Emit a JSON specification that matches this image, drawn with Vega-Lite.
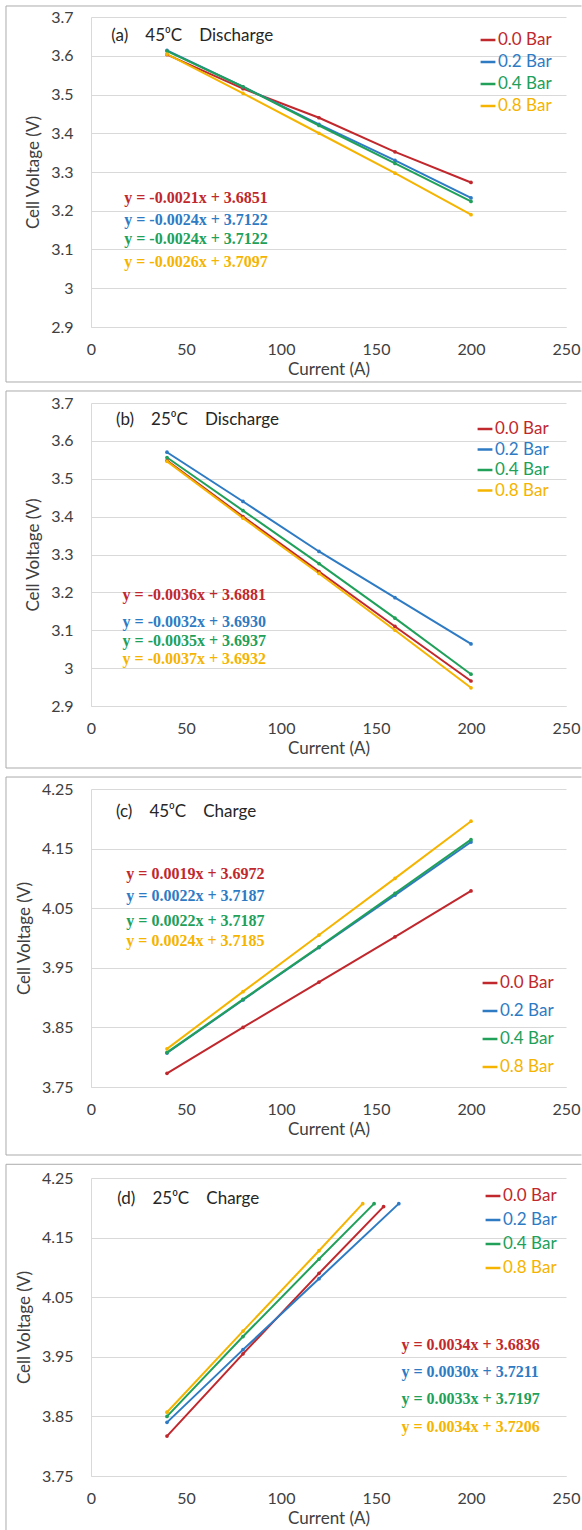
{
  "$schema": "https://vega.github.io/schema/vega-lite/v6.json",
  "background": "white",
  "padding": {"left": 5, "top": 5, "right": 0, "bottom": 0},
  "spacing": 7,
  "resolve": {"legend": {"color": "independent"}},
  "config": {
    "view": {"stroke": null},
    "font": "Lato",
    "axis": {"gridColor": "#D9D9D9", "domainColor": "#D9D9D9", "ticks": false, "labelFont": "Lato", "labelFontSize": 16, "labelColor": "#404040", "titleFont": "Lato", "titleFontSize": 17, "titleFontWeight": "normal", "titleColor": "#404040", "labelFlush": false, "labelOverlap": false},
    "legend": {"title": null, "symbolType": "stroke", "symbolSize": 220, "symbolStrokeWidth": 2.5, "labelFontSize": 17, "labelFont": "Lato", "labelOffset": 1, "padding": 0}
  },
  "datasets": {
    "cells": [
      {"panel": "a", "pressure": "0.0 Bar", "current": 40, "voltage": 3.603},
      {"panel": "a", "pressure": "0.0 Bar", "current": 80, "voltage": 3.515},
      {"panel": "a", "pressure": "0.0 Bar", "current": 120, "voltage": 3.440},
      {"panel": "a", "pressure": "0.0 Bar", "current": 160, "voltage": 3.352},
      {"panel": "a", "pressure": "0.0 Bar", "current": 200, "voltage": 3.273},
      {"panel": "a", "pressure": "0.2 Bar", "current": 40, "voltage": 3.614},
      {"panel": "a", "pressure": "0.2 Bar", "current": 80, "voltage": 3.520},
      {"panel": "a", "pressure": "0.2 Bar", "current": 120, "voltage": 3.423},
      {"panel": "a", "pressure": "0.2 Bar", "current": 160, "voltage": 3.330},
      {"panel": "a", "pressure": "0.2 Bar", "current": 200, "voltage": 3.233},
      {"panel": "a", "pressure": "0.4 Bar", "current": 40, "voltage": 3.612},
      {"panel": "a", "pressure": "0.4 Bar", "current": 80, "voltage": 3.520},
      {"panel": "a", "pressure": "0.4 Bar", "current": 120, "voltage": 3.420},
      {"panel": "a", "pressure": "0.4 Bar", "current": 160, "voltage": 3.322},
      {"panel": "a", "pressure": "0.4 Bar", "current": 200, "voltage": 3.224},
      {"panel": "a", "pressure": "0.8 Bar", "current": 40, "voltage": 3.604},
      {"panel": "a", "pressure": "0.8 Bar", "current": 80, "voltage": 3.503},
      {"panel": "a", "pressure": "0.8 Bar", "current": 120, "voltage": 3.400},
      {"panel": "a", "pressure": "0.8 Bar", "current": 160, "voltage": 3.297},
      {"panel": "a", "pressure": "0.8 Bar", "current": 200, "voltage": 3.190},
      {"panel": "b", "pressure": "0.0 Bar", "current": 40, "voltage": 3.548},
      {"panel": "b", "pressure": "0.0 Bar", "current": 80, "voltage": 3.400},
      {"panel": "b", "pressure": "0.0 Bar", "current": 120, "voltage": 3.255},
      {"panel": "b", "pressure": "0.0 Bar", "current": 160, "voltage": 3.110},
      {"panel": "b", "pressure": "0.0 Bar", "current": 200, "voltage": 2.966},
      {"panel": "b", "pressure": "0.2 Bar", "current": 40, "voltage": 3.570},
      {"panel": "b", "pressure": "0.2 Bar", "current": 80, "voltage": 3.440},
      {"panel": "b", "pressure": "0.2 Bar", "current": 120, "voltage": 3.308},
      {"panel": "b", "pressure": "0.2 Bar", "current": 160, "voltage": 3.186},
      {"panel": "b", "pressure": "0.2 Bar", "current": 200, "voltage": 3.064},
      {"panel": "b", "pressure": "0.4 Bar", "current": 40, "voltage": 3.556},
      {"panel": "b", "pressure": "0.4 Bar", "current": 80, "voltage": 3.416},
      {"panel": "b", "pressure": "0.4 Bar", "current": 120, "voltage": 3.276},
      {"panel": "b", "pressure": "0.4 Bar", "current": 160, "voltage": 3.132},
      {"panel": "b", "pressure": "0.4 Bar", "current": 200, "voltage": 2.984},
      {"panel": "b", "pressure": "0.8 Bar", "current": 40, "voltage": 3.546},
      {"panel": "b", "pressure": "0.8 Bar", "current": 80, "voltage": 3.396},
      {"panel": "b", "pressure": "0.8 Bar", "current": 120, "voltage": 3.250},
      {"panel": "b", "pressure": "0.8 Bar", "current": 160, "voltage": 3.100},
      {"panel": "b", "pressure": "0.8 Bar", "current": 200, "voltage": 2.948},
      {"panel": "c", "pressure": "0.0 Bar", "current": 40, "voltage": 3.773},
      {"panel": "c", "pressure": "0.0 Bar", "current": 80, "voltage": 3.850},
      {"panel": "c", "pressure": "0.0 Bar", "current": 120, "voltage": 3.926},
      {"panel": "c", "pressure": "0.0 Bar", "current": 160, "voltage": 4.002},
      {"panel": "c", "pressure": "0.0 Bar", "current": 200, "voltage": 4.079},
      {"panel": "c", "pressure": "0.2 Bar", "current": 40, "voltage": 3.807},
      {"panel": "c", "pressure": "0.2 Bar", "current": 80, "voltage": 3.896},
      {"panel": "c", "pressure": "0.2 Bar", "current": 120, "voltage": 3.984},
      {"panel": "c", "pressure": "0.2 Bar", "current": 160, "voltage": 4.072},
      {"panel": "c", "pressure": "0.2 Bar", "current": 200, "voltage": 4.161},
      {"panel": "c", "pressure": "0.4 Bar", "current": 40, "voltage": 3.808},
      {"panel": "c", "pressure": "0.4 Bar", "current": 80, "voltage": 3.897},
      {"panel": "c", "pressure": "0.4 Bar", "current": 120, "voltage": 3.985},
      {"panel": "c", "pressure": "0.4 Bar", "current": 160, "voltage": 4.075},
      {"panel": "c", "pressure": "0.4 Bar", "current": 200, "voltage": 4.165},
      {"panel": "c", "pressure": "0.8 Bar", "current": 40, "voltage": 3.814},
      {"panel": "c", "pressure": "0.8 Bar", "current": 80, "voltage": 3.910},
      {"panel": "c", "pressure": "0.8 Bar", "current": 120, "voltage": 4.005},
      {"panel": "c", "pressure": "0.8 Bar", "current": 160, "voltage": 4.100},
      {"panel": "c", "pressure": "0.8 Bar", "current": 200, "voltage": 4.196},
      {"panel": "d", "pressure": "0.0 Bar", "current": 40, "voltage": 3.817},
      {"panel": "d", "pressure": "0.0 Bar", "current": 80, "voltage": 3.955},
      {"panel": "d", "pressure": "0.0 Bar", "current": 120, "voltage": 4.090},
      {"panel": "d", "pressure": "0.0 Bar", "current": 154, "voltage": 4.202},
      {"panel": "d", "pressure": "0.2 Bar", "current": 40, "voltage": 3.840},
      {"panel": "d", "pressure": "0.2 Bar", "current": 80, "voltage": 3.962},
      {"panel": "d", "pressure": "0.2 Bar", "current": 120, "voltage": 4.081},
      {"panel": "d", "pressure": "0.2 Bar", "current": 162, "voltage": 4.207},
      {"panel": "d", "pressure": "0.4 Bar", "current": 40, "voltage": 3.850},
      {"panel": "d", "pressure": "0.4 Bar", "current": 80, "voltage": 3.984},
      {"panel": "d", "pressure": "0.4 Bar", "current": 120, "voltage": 4.114},
      {"panel": "d", "pressure": "0.4 Bar", "current": 149, "voltage": 4.207},
      {"panel": "d", "pressure": "0.8 Bar", "current": 40, "voltage": 3.857},
      {"panel": "d", "pressure": "0.8 Bar", "current": 80, "voltage": 3.993},
      {"panel": "d", "pressure": "0.8 Bar", "current": 120, "voltage": 4.128},
      {"panel": "d", "pressure": "0.8 Bar", "current": 143, "voltage": 4.207}
    ]
  },
  "vconcat": [
    {
      "width": 475, "height": 310,
      "layer": [
        {"data": {"name": "cells"}, "transform": [{"filter": "datum.panel === 'a'"}],
         "mark": {"type": "line", "strokeWidth": 2, "point": {"filled": true, "size": 14}},
         "encoding": {
           "x": {"field": "current", "type": "quantitative", "scale": {"domain": [0, 250], "nice": false, "zero": false}, "axis": {"values": [0, 50, 100, 150, 200, 250], "tickCount": 20, "title": "Current (A)", "grid": false, "labelPadding": 14, "titlePadding": 4, "labelOverlap": false}},
           "y": {"field": "voltage", "type": "quantitative", "scale": {"domain": [2.9, 3.7], "nice": false, "zero": false}, "axis": {"values": [2.9, 3, 3.1, 3.2, 3.3, 3.4, 3.5, 3.6, 3.7], "tickCount": 20, "format": "~g", "title": "Cell Voltage (V)", "grid": true, "labelPadding": 18, "titlePadding": 8, "labelOverlap": false, "labelBound": false}},
           "color": {"field": "pressure", "type": "nominal", "scale": {"domain": ["0.0 Bar", "0.2 Bar", "0.4 Bar", "0.8 Bar"], "range": ["#C0282D", "#2E7BC4", "#21A05A", "#F5B400"]},
             "legend": {"orient": "top-right", "offset": 14, "rowPadding": 5, "encode": {"labels": {"update": {"fill": {"scale": "color", "field": "value"}}}}}}
         }},
        {"data": {"values": [{}]}, "mark": {"type": "rule", "color": "#ABABAB"}, "encoding": {"x": {"datum": -44.74}, "x2": {"datum": 258.2}, "y": {"datum": 3.7284}}},
        {"data": {"values": [{}]}, "mark": {"type": "rule", "color": "#ABABAB"}, "encoding": {"x": {"datum": -44.74}, "x2": {"datum": 258.2}, "y": {"datum": 2.7581}}},
        {"data": {"values": [{}]}, "mark": {"type": "rule", "color": "#ABABAB"}, "encoding": {"x": {"datum": -44.74}, "y": {"datum": 2.7581}, "y2": {"datum": 3.7284}}},
        {"data": {"values": [{}]}, "mark": {"type": "text", "align": "left", "baseline": "middle", "font": "Lato", "fontSize": 17, "color": "#262626"}, "encoding": {"x": {"datum": 10.7}, "y": {"datum": 3.651}, "text": {"value": "(a)\u2003 45⁰C\u2003 Discharge"}}},
        {"data": {"values": [{}]}, "mark": {"type": "text", "align": "left", "baseline": "middle", "font": "Liberation Serif", "fontWeight": "bold", "fontSize": 16, "color": "#C0282D"}, "encoding": {"x": {"datum": 17.5}, "y": {"datum": 3.233}, "text": {"value": "y = -0.0021x + 3.6851"}}},
        {"data": {"values": [{}]}, "mark": {"type": "text", "align": "left", "baseline": "middle", "font": "Liberation Serif", "fontWeight": "bold", "fontSize": 16, "color": "#2E7BC4"}, "encoding": {"x": {"datum": 17.5}, "y": {"datum": 3.175}, "text": {"value": "y = -0.0024x + 3.7122"}}},
        {"data": {"values": [{}]}, "mark": {"type": "text", "align": "left", "baseline": "middle", "font": "Liberation Serif", "fontWeight": "bold", "fontSize": 16, "color": "#21A05A"}, "encoding": {"x": {"datum": 17.5}, "y": {"datum": 3.128}, "text": {"value": "y = -0.0024x + 3.7122"}}},
        {"data": {"values": [{}]}, "mark": {"type": "text", "align": "left", "baseline": "middle", "font": "Liberation Serif", "fontWeight": "bold", "fontSize": 16, "color": "#F5B400"}, "encoding": {"x": {"datum": 17.5}, "y": {"datum": 3.067}, "text": {"value": "y = -0.0026x + 3.7097"}}}
      ]
    },
    {
      "width": 475, "height": 303,
      "layer": [
        {"data": {"name": "cells"}, "transform": [{"filter": "datum.panel === 'b'"}],
         "mark": {"type": "line", "strokeWidth": 2, "point": {"filled": true, "size": 14}},
         "encoding": {
           "x": {"field": "current", "type": "quantitative", "scale": {"domain": [0, 250], "nice": false, "zero": false}, "axis": {"values": [0, 50, 100, 150, 200, 250], "tickCount": 20, "title": "Current (A)", "grid": false, "labelPadding": 14, "titlePadding": 4, "labelOverlap": false}},
           "y": {"field": "voltage", "type": "quantitative", "scale": {"domain": [2.9, 3.7], "nice": false, "zero": false}, "axis": {"values": [2.9, 3, 3.1, 3.2, 3.3, 3.4, 3.5, 3.6, 3.7], "tickCount": 20, "format": "~g", "title": "Cell Voltage (V)", "grid": true, "labelPadding": 18, "titlePadding": 8, "labelOverlap": false, "labelBound": false}},
           "color": {"field": "pressure", "type": "nominal", "scale": {"domain": ["0.0 Bar", "0.2 Bar", "0.4 Bar", "0.8 Bar"], "range": ["#C0282D", "#2E7BC4", "#21A05A", "#F5B400"]},
             "legend": {"orient": "top-right", "offset": 17, "rowPadding": 3.5, "encode": {"labels": {"update": {"fill": {"scale": "color", "field": "value"}}}}}}
         }},
        {"data": {"values": [{}]}, "mark": {"type": "rule", "color": "#ABABAB"}, "encoding": {"x": {"datum": -44.74}, "x2": {"datum": 258.2}, "y": {"datum": 3.7317}}},
        {"data": {"values": [{}]}, "mark": {"type": "rule", "color": "#ABABAB"}, "encoding": {"x": {"datum": -44.74}, "x2": {"datum": 258.2}, "y": {"datum": 2.7363}}},
        {"data": {"values": [{}]}, "mark": {"type": "rule", "color": "#ABABAB"}, "encoding": {"x": {"datum": -44.74}, "y": {"datum": 2.7363}, "y2": {"datum": 3.7317}}},
        {"data": {"values": [{}]}, "mark": {"type": "text", "align": "left", "baseline": "middle", "font": "Lato", "fontSize": 17, "color": "#262626"}, "encoding": {"x": {"datum": 13.1}, "y": {"datum": 3.655}, "text": {"value": "(b)\u2003 25⁰C\u2003 Discharge"}}},
        {"data": {"values": [{}]}, "mark": {"type": "text", "align": "left", "baseline": "middle", "font": "Liberation Serif", "fontWeight": "bold", "fontSize": 16, "color": "#C0282D"}, "encoding": {"x": {"datum": 16.6}, "y": {"datum": 3.194}, "text": {"value": "y = -0.0036x + 3.6881"}}},
        {"data": {"values": [{}]}, "mark": {"type": "text", "align": "left", "baseline": "middle", "font": "Liberation Serif", "fontWeight": "bold", "fontSize": 16, "color": "#2E7BC4"}, "encoding": {"x": {"datum": 16.6}, "y": {"datum": 3.122}, "text": {"value": "y = -0.0032x + 3.6930"}}},
        {"data": {"values": [{}]}, "mark": {"type": "text", "align": "left", "baseline": "middle", "font": "Liberation Serif", "fontWeight": "bold", "fontSize": 16, "color": "#21A05A"}, "encoding": {"x": {"datum": 16.6}, "y": {"datum": 3.071}, "text": {"value": "y = -0.0035x + 3.6937"}}},
        {"data": {"values": [{}]}, "mark": {"type": "text", "align": "left", "baseline": "middle", "font": "Liberation Serif", "fontWeight": "bold", "fontSize": 16, "color": "#F5B400"}, "encoding": {"x": {"datum": 16.6}, "y": {"datum": 3.023}, "text": {"value": "y = -0.0037x + 3.6932"}}}
      ]
    },
    {
      "width": 475, "height": 298,
      "layer": [
        {"data": {"name": "cells"}, "transform": [{"filter": "datum.panel === 'c'"}],
         "mark": {"type": "line", "strokeWidth": 2, "point": {"filled": true, "size": 14}},
         "encoding": {
           "x": {"field": "current", "type": "quantitative", "scale": {"domain": [0, 250], "nice": false, "zero": false}, "axis": {"values": [0, 50, 100, 150, 200, 250], "tickCount": 20, "title": "Current (A)", "grid": false, "labelPadding": 14, "titlePadding": 4, "labelOverlap": false}},
           "y": {"field": "voltage", "type": "quantitative", "scale": {"domain": [3.75, 4.25], "nice": false, "zero": false}, "axis": {"values": [3.75, 3.85, 3.95, 4.05, 4.15, 4.25], "tickCount": 20, "format": "~g", "title": "Cell Voltage (V)", "grid": true, "labelPadding": 18, "titlePadding": 8, "labelOverlap": false, "labelBound": false}},
           "color": {"field": "pressure", "type": "nominal", "scale": {"domain": ["0.0 Bar", "0.2 Bar", "0.4 Bar", "0.8 Bar"], "range": ["#C0282D", "#2E7BC4", "#21A05A", "#F5B400"]},
             "legend": {"orient": "bottom-right", "offset": 12, "rowPadding": 11, "encode": {"labels": {"update": {"fill": {"scale": "color", "field": "value"}}}}}}
         }},
        {"data": {"values": [{}]}, "mark": {"type": "rule", "color": "#ABABAB"}, "encoding": {"x": {"datum": -44.74}, "x2": {"datum": 258.2}, "y": {"datum": 4.2701}}},
        {"data": {"values": [{}]}, "mark": {"type": "rule", "color": "#ABABAB"}, "encoding": {"x": {"datum": -44.74}, "x2": {"datum": 258.2}, "y": {"datum": 3.6359}}},
        {"data": {"values": [{}]}, "mark": {"type": "rule", "color": "#ABABAB"}, "encoding": {"x": {"datum": -44.74}, "y": {"datum": 3.6359}, "y2": {"datum": 4.2701}}},
        {"data": {"values": [{}]}, "mark": {"type": "text", "align": "left", "baseline": "middle", "font": "Lato", "fontSize": 17, "color": "#262626"}, "encoding": {"x": {"datum": 13.1}, "y": {"datum": 4.212}, "text": {"value": "(c)\u2003 45⁰C\u2003 Charge"}}},
        {"data": {"values": [{}]}, "mark": {"type": "text", "align": "left", "baseline": "middle", "font": "Liberation Serif", "fontWeight": "bold", "fontSize": 16, "color": "#C0282D"}, "encoding": {"x": {"datum": 18.6}, "y": {"datum": 4.107}, "text": {"value": "y = 0.0019x + 3.6972"}}},
        {"data": {"values": [{}]}, "mark": {"type": "text", "align": "left", "baseline": "middle", "font": "Liberation Serif", "fontWeight": "bold", "fontSize": 16, "color": "#2E7BC4"}, "encoding": {"x": {"datum": 18.6}, "y": {"datum": 4.070}, "text": {"value": "y = 0.0022x + 3.7187"}}},
        {"data": {"values": [{}]}, "mark": {"type": "text", "align": "left", "baseline": "middle", "font": "Liberation Serif", "fontWeight": "bold", "fontSize": 16, "color": "#21A05A"}, "encoding": {"x": {"datum": 18.6}, "y": {"datum": 4.029}, "text": {"value": "y = 0.0022x + 3.7187"}}},
        {"data": {"values": [{}]}, "mark": {"type": "text", "align": "left", "baseline": "middle", "font": "Liberation Serif", "fontWeight": "bold", "fontSize": 16, "color": "#F5B400"}, "encoding": {"x": {"datum": 18.6}, "y": {"datum": 3.995}, "text": {"value": "y = 0.0024x + 3.7185"}}}
      ]
    },
    {
      "width": 475, "height": 298,
      "layer": [
        {"data": {"name": "cells"}, "transform": [{"filter": "datum.panel === 'd'"}],
         "mark": {"type": "line", "strokeWidth": 2, "point": {"filled": true, "size": 14}},
         "encoding": {
           "x": {"field": "current", "type": "quantitative", "scale": {"domain": [0, 250], "nice": false, "zero": false}, "axis": {"values": [0, 50, 100, 150, 200, 250], "tickCount": 20, "title": "Current (A)", "grid": false, "labelPadding": 14, "titlePadding": 4, "labelOverlap": false}},
           "y": {"field": "voltage", "type": "quantitative", "scale": {"domain": [3.75, 4.25], "nice": false, "zero": false}, "axis": {"values": [3.75, 3.85, 3.95, 4.05, 4.15, 4.25], "tickCount": 20, "format": "~g", "title": "Cell Voltage (V)", "grid": true, "labelPadding": 18, "titlePadding": 8, "labelOverlap": false, "labelBound": false}},
           "color": {"field": "pressure", "type": "nominal", "scale": {"domain": ["0.0 Bar", "0.2 Bar", "0.4 Bar", "0.8 Bar"], "range": ["#C0282D", "#2E7BC4", "#21A05A", "#F5B400"]},
             "legend": {"orient": "top-right", "offset": 9, "rowPadding": 7, "encode": {"labels": {"update": {"fill": {"scale": "color", "field": "value"}}}}}}
         }},
        {"data": {"values": [{}]}, "mark": {"type": "rule", "color": "#ABABAB"}, "encoding": {"x": {"datum": -44.74}, "x2": {"datum": 258.2}, "y": {"datum": 4.273}}},
        {"data": {"values": [{}]}, "mark": {"type": "rule", "color": "#ABABAB"}, "encoding": {"x": {"datum": -44.74}, "y": {"datum": 3.6527}, "y2": {"datum": 4.273}}},
        {"data": {"values": [{}]}, "mark": {"type": "text", "align": "left", "baseline": "middle", "font": "Lato", "fontSize": 17, "color": "#262626"}, "encoding": {"x": {"datum": 13.8}, "y": {"datum": 4.215}, "text": {"value": "(d)\u2003 25⁰C\u2003 Charge"}}},
        {"data": {"values": [{}]}, "mark": {"type": "text", "align": "left", "baseline": "middle", "font": "Liberation Serif", "fontWeight": "bold", "fontSize": 16, "color": "#C0282D"}, "encoding": {"x": {"datum": 163.4}, "y": {"datum": 3.969}, "text": {"value": "y = 0.0034x + 3.6836"}}},
        {"data": {"values": [{}]}, "mark": {"type": "text", "align": "left", "baseline": "middle", "font": "Liberation Serif", "fontWeight": "bold", "fontSize": 16, "color": "#2E7BC4"}, "encoding": {"x": {"datum": 163.4}, "y": {"datum": 3.924}, "text": {"value": "y = 0.0030x + 3.7211"}}},
        {"data": {"values": [{}]}, "mark": {"type": "text", "align": "left", "baseline": "middle", "font": "Liberation Serif", "fontWeight": "bold", "fontSize": 16, "color": "#21A05A"}, "encoding": {"x": {"datum": 163.4}, "y": {"datum": 3.880}, "text": {"value": "y = 0.0033x + 3.7197"}}},
        {"data": {"values": [{}]}, "mark": {"type": "text", "align": "left", "baseline": "middle", "font": "Liberation Serif", "fontWeight": "bold", "fontSize": 16, "color": "#F5B400"}, "encoding": {"x": {"datum": 163.4}, "y": {"datum": 3.833}, "text": {"value": "y = 0.0034x + 3.7206"}}}
      ]
    }
  ]
}
